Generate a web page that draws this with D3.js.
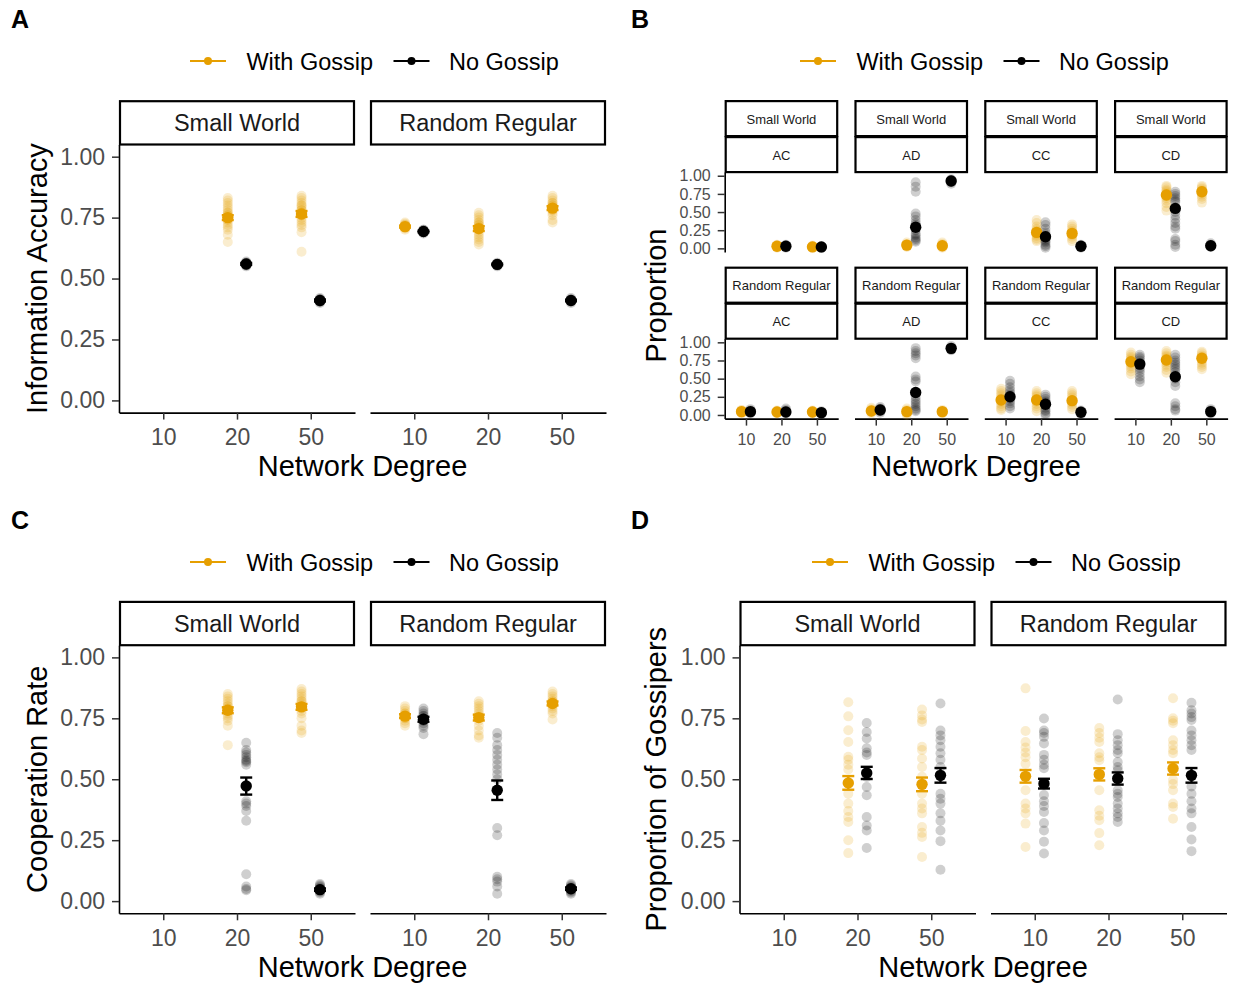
<!DOCTYPE html>
<html>
<head>
<meta charset="utf-8">
<script src="https://cdn.jsdelivr.net/npm/d3@7"></script>
<style>
  body { margin: 0; background: #fff; }
  svg { display: block; }
  text { font-family: "Liberation Sans", Arial, Helvetica, sans-serif; }
</style>
</head>
<body>
<svg id="fig" width="1233" height="989"></svg>
<script>
// ---- categories ----
const degrees = ["10", "20", "50"];
const networks = ["Small World", "Random Regular"];
const conditions = ["With Gossip", "No Gossip"];
const strategies = ["AC", "AD", "CC", "CD"];
const yTicks = [0, 0.25, 0.5, 0.75, 1];
const conditionColors = ["#E69F00", "#000000"];

// ---- A: information accuracy  [network, degree, condition, mean, se, runs] ----
const accuracy = [
  ["Small World", "20", "With Gossip", 0.75, 0.010, [0.65, 0.68, 0.70, 0.71, 0.72, 0.73, 0.74, 0.74, 0.75, 0.75, 0.76, 0.76, 0.77, 0.77, 0.78, 0.79, 0.80, 0.81, 0.82, 0.83]],
  ["Small World", "20", "No Gossip", 0.56, 0.004, [0.55, 0.555, 0.56, 0.56, 0.565, 0.56, 0.57, 0.555, 0.56, 0.565]],
  ["Small World", "50", "With Gossip", 0.765, 0.012, [0.61, 0.69, 0.71, 0.72, 0.73, 0.74, 0.75, 0.76, 0.76, 0.77, 0.77, 0.78, 0.78, 0.79, 0.80, 0.80, 0.81, 0.82, 0.83, 0.84]],
  ["Small World", "50", "No Gossip", 0.41, 0.004, [0.40, 0.405, 0.41, 0.41, 0.415, 0.41, 0.42, 0.405, 0.41, 0.415]],
  ["Random Regular", "10", "With Gossip", 0.713, 0.004, [0.70, 0.705, 0.71, 0.71, 0.715, 0.72, 0.72, 0.725, 0.73]],
  ["Random Regular", "10", "No Gossip", 0.693, 0.003, [0.685, 0.69, 0.69, 0.695, 0.70, 0.69, 0.695, 0.70]],
  ["Random Regular", "20", "With Gossip", 0.705, 0.010, [0.64, 0.65, 0.66, 0.67, 0.68, 0.69, 0.70, 0.70, 0.71, 0.71, 0.72, 0.72, 0.73, 0.73, 0.74, 0.75, 0.76, 0.77]],
  ["Random Regular", "20", "No Gossip", 0.558, 0.003, [0.55, 0.555, 0.56, 0.56, 0.555, 0.56, 0.565, 0.56]],
  ["Random Regular", "50", "With Gossip", 0.789, 0.008, [0.73, 0.74, 0.76, 0.77, 0.78, 0.78, 0.79, 0.79, 0.80, 0.80, 0.81, 0.81, 0.82, 0.83, 0.84]],
  ["Random Regular", "50", "No Gossip", 0.41, 0.003, [0.40, 0.405, 0.41, 0.41, 0.415, 0.41, 0.42, 0.41]]
];

// ---- B: strategy proportions  [network, strategy, degree, condition, mean, runs] ----
const strategyShares = [
  ["Small World", "AC", "20", "With Gossip", 0.03, [0.01, 0.02, 0.03, 0.03, 0.04, 0.05]],
  ["Small World", "AC", "20", "No Gossip", 0.03, [0.01, 0.02, 0.03, 0.04, 0.05]],
  ["Small World", "AC", "50", "With Gossip", 0.02, [0.01, 0.02, 0.02, 0.03, 0.04]],
  ["Small World", "AC", "50", "No Gossip", 0.02, [0.005, 0.01, 0.02, 0.03]],
  ["Small World", "AD", "20", "With Gossip", 0.045, [0.02, 0.03, 0.04, 0.05, 0.06, 0.08]],
  ["Small World", "AD", "20", "No Gossip", 0.29, [0.91, 0.85, 0.78, 0.48, 0.44, 0.39, 0.35, 0.32, 0.25, 0.20, 0.18, 0.15, 0.13, 0.11, 0.09]],
  ["Small World", "AD", "50", "With Gossip", 0.036, [0.01, 0.02, 0.03, 0.04, 0.06, 0.08]],
  ["Small World", "AD", "50", "No Gossip", 0.927, [0.89, 0.91, 0.92, 0.93, 0.94, 0.95]],
  ["Small World", "CC", "20", "With Gossip", 0.22, [0.39, 0.35, 0.30, 0.27, 0.25, 0.23, 0.21, 0.19, 0.17, 0.14, 0.12, 0.10]],
  ["Small World", "CC", "20", "No Gossip", 0.16, [0.36, 0.32, 0.27, 0.22, 0.19, 0.17, 0.15, 0.12, 0.10, 0.08, 0.05, 0.03, 0.01]],
  ["Small World", "CC", "50", "With Gossip", 0.206, [0.33, 0.30, 0.27, 0.24, 0.22, 0.20, 0.18, 0.16, 0.13, 0.10]],
  ["Small World", "CC", "50", "No Gossip", 0.03, [0.01, 0.02, 0.03, 0.04, 0.05]],
  ["Small World", "CD", "20", "With Gossip", 0.734, [0.86, 0.84, 0.81, 0.79, 0.77, 0.75, 0.73, 0.71, 0.69, 0.66, 0.62, 0.57, 0.52]],
  ["Small World", "CD", "20", "No Gossip", 0.55, [0.78, 0.75, 0.72, 0.69, 0.66, 0.64, 0.50, 0.45, 0.40, 0.35, 0.30, 0.27, 0.13, 0.10, 0.05, 0.02]],
  ["Small World", "CD", "50", "With Gossip", 0.78, [0.86, 0.84, 0.82, 0.80, 0.79, 0.78, 0.76, 0.74, 0.71, 0.68, 0.63]],
  ["Small World", "CD", "50", "No Gossip", 0.036, [0.02, 0.03, 0.04, 0.05, 0.07]],
  ["Random Regular", "AC", "10", "With Gossip", 0.046, [0.02, 0.03, 0.04, 0.05, 0.06, 0.07]],
  ["Random Regular", "AC", "10", "No Gossip", 0.046, [0.02, 0.03, 0.05, 0.06, 0.08]],
  ["Random Regular", "AC", "20", "With Gossip", 0.04, [0.02, 0.03, 0.04, 0.05, 0.06]],
  ["Random Regular", "AC", "20", "No Gossip", 0.04, [0.02, 0.03, 0.05, 0.07, 0.09]],
  ["Random Regular", "AC", "50", "With Gossip", 0.04, [0.02, 0.03, 0.04, 0.05, 0.06]],
  ["Random Regular", "AC", "50", "No Gossip", 0.032, [0.01, 0.02, 0.03, 0.04, 0.05]],
  ["Random Regular", "AD", "10", "With Gossip", 0.055, [0.02, 0.04, 0.05, 0.06, 0.08, 0.10]],
  ["Random Regular", "AD", "10", "No Gossip", 0.069, [0.03, 0.05, 0.07, 0.08, 0.09, 0.11]],
  ["Random Regular", "AD", "20", "With Gossip", 0.046, [0.0, 0.02, 0.04, 0.05, 0.07, 0.09]],
  ["Random Regular", "AD", "20", "No Gossip", 0.31, [0.92, 0.88, 0.85, 0.82, 0.78, 0.53, 0.49, 0.46, 0.25, 0.21, 0.18, 0.15, 0.12, 0.09, 0.07, 0.05]],
  ["Random Regular", "AD", "50", "With Gossip", 0.046, [0.02, 0.03, 0.04, 0.05, 0.07]],
  ["Random Regular", "AD", "50", "No Gossip", 0.917, [0.89, 0.90, 0.91, 0.92, 0.93, 0.95]],
  ["Random Regular", "CC", "10", "With Gossip", 0.206, [0.36, 0.33, 0.30, 0.27, 0.24, 0.22, 0.20, 0.18, 0.15, 0.12, 0.09, 0.07]],
  ["Random Regular", "CC", "10", "No Gossip", 0.25, [0.47, 0.43, 0.38, 0.34, 0.31, 0.28, 0.26, 0.24, 0.22, 0.19, 0.16, 0.12, 0.09]],
  ["Random Regular", "CC", "20", "With Gossip", 0.206, [0.33, 0.30, 0.27, 0.25, 0.22, 0.20, 0.18, 0.15, 0.12, 0.09, 0.05]],
  ["Random Regular", "CC", "20", "No Gossip", 0.147, [0.28, 0.25, 0.22, 0.19, 0.17, 0.15, 0.13, 0.10, 0.07, 0.05, 0.02, 0.0]],
  ["Random Regular", "CC", "50", "With Gossip", 0.197, [0.33, 0.30, 0.27, 0.24, 0.21, 0.19, 0.17, 0.14, 0.11, 0.08]],
  ["Random Regular", "CC", "50", "No Gossip", 0.037, [0.01, 0.02, 0.03, 0.05, 0.06]],
  ["Random Regular", "CD", "10", "With Gossip", 0.733, [0.86, 0.83, 0.80, 0.78, 0.76, 0.74, 0.72, 0.70, 0.67, 0.64, 0.60, 0.56]],
  ["Random Regular", "CD", "10", "No Gossip", 0.70, [0.83, 0.80, 0.78, 0.75, 0.72, 0.70, 0.68, 0.65, 0.62, 0.58, 0.53, 0.49, 0.45]],
  ["Random Regular", "CD", "20", "With Gossip", 0.757, [0.88, 0.85, 0.82, 0.80, 0.78, 0.76, 0.74, 0.72, 0.69, 0.66, 0.62, 0.58]],
  ["Random Regular", "CD", "20", "No Gossip", 0.527, [0.83, 0.79, 0.75, 0.72, 0.69, 0.66, 0.63, 0.59, 0.55, 0.50, 0.45, 0.40, 0.16, 0.12, 0.08, 0.06]],
  ["Random Regular", "CD", "50", "With Gossip", 0.78, [0.87, 0.85, 0.82, 0.80, 0.78, 0.77, 0.75, 0.72, 0.69, 0.66, 0.63]],
  ["Random Regular", "CD", "50", "No Gossip", 0.046, [0.02, 0.03, 0.04, 0.05, 0.06, 0.08]]
];

// ---- C: cooperation rate  [network, degree, condition, mean, se, runs] ----
const cooperation = [
  ["Small World", "20", "With Gossip", 0.783, 0.012, [0.64, 0.72, 0.74, 0.75, 0.76, 0.77, 0.78, 0.78, 0.79, 0.79, 0.80, 0.80, 0.81, 0.82, 0.83, 0.84, 0.85]],
  ["Small World", "20", "No Gossip", 0.472, 0.035, [0.65, 0.62, 0.61, 0.60, 0.59, 0.58, 0.575, 0.57, 0.56, 0.41, 0.40, 0.39, 0.37, 0.33, 0.11, 0.06, 0.05, 0.045]],
  ["Small World", "50", "With Gossip", 0.797, 0.012, [0.69, 0.70, 0.72, 0.75, 0.77, 0.78, 0.79, 0.80, 0.80, 0.81, 0.82, 0.82, 0.83, 0.84, 0.85, 0.86, 0.87]],
  ["Small World", "50", "No Gossip", 0.047, 0.005, [0.03, 0.035, 0.04, 0.045, 0.05, 0.05, 0.055, 0.06, 0.065, 0.07]],
  ["Random Regular", "10", "With Gossip", 0.759, 0.008, [0.72, 0.73, 0.74, 0.75, 0.75, 0.76, 0.76, 0.77, 0.77, 0.78, 0.79, 0.80]],
  ["Random Regular", "10", "No Gossip", 0.746, 0.010, [0.685, 0.71, 0.72, 0.73, 0.74, 0.74, 0.75, 0.75, 0.76, 0.76, 0.77, 0.78, 0.79]],
  ["Random Regular", "20", "With Gossip", 0.753, 0.012, [0.67, 0.68, 0.70, 0.72, 0.74, 0.75, 0.76, 0.77, 0.78, 0.79, 0.80, 0.81, 0.82]],
  ["Random Regular", "20", "No Gossip", 0.455, 0.040, [0.69, 0.67, 0.64, 0.62, 0.60, 0.58, 0.56, 0.54, 0.52, 0.50, 0.30, 0.27, 0.10, 0.09, 0.08, 0.06, 0.03]],
  ["Random Regular", "50", "With Gossip", 0.811, 0.008, [0.745, 0.77, 0.78, 0.79, 0.80, 0.81, 0.82, 0.82, 0.83, 0.84, 0.85, 0.86]],
  ["Random Regular", "50", "No Gossip", 0.051, 0.005, [0.03, 0.035, 0.04, 0.045, 0.05, 0.055, 0.06, 0.065, 0.07]]
];

// ---- D: proportion of gossipers  [network, degree, condition, mean, se, runs] ----
const gossipers = [
  ["Small World", "20", "With Gossip", 0.485, 0.028, [0.816, 0.758, 0.701, 0.653, 0.592, 0.58, 0.56, 0.54, 0.441, 0.40, 0.37, 0.345, 0.325, 0.25, 0.197]],
  ["Small World", "20", "No Gossip", 0.526, 0.025, [0.731, 0.694, 0.667, 0.627, 0.61, 0.60, 0.509, 0.468, 0.434, 0.345, 0.31, 0.29, 0.218]],
  ["Small World", "50", "With Gossip", 0.479, 0.028, [0.786, 0.762, 0.745, 0.735, 0.633, 0.62, 0.585, 0.55, 0.51, 0.441, 0.40, 0.38, 0.36, 0.304, 0.28, 0.263, 0.181]],
  ["Small World", "50", "No Gossip", 0.516, 0.030, [0.811, 0.70, 0.68, 0.66, 0.633, 0.607, 0.58, 0.55, 0.44, 0.42, 0.40, 0.36, 0.33, 0.29, 0.246, 0.129]],
  ["Random Regular", "10", "With Gossip", 0.512, 0.026, [0.873, 0.698, 0.653, 0.63, 0.61, 0.59, 0.564, 0.455, 0.40, 0.38, 0.36, 0.318, 0.222]],
  ["Random Regular", "10", "No Gossip", 0.482, 0.020, [0.749, 0.70, 0.69, 0.674, 0.647, 0.60, 0.58, 0.56, 0.545, 0.435, 0.41, 0.39, 0.366, 0.32, 0.29, 0.244, 0.195]],
  ["Random Regular", "20", "With Gossip", 0.52, 0.025, [0.71, 0.69, 0.67, 0.653, 0.607, 0.59, 0.578, 0.455, 0.373, 0.35, 0.332, 0.279, 0.229]],
  ["Random Regular", "20", "No Gossip", 0.503, 0.025, [0.827, 0.685, 0.66, 0.64, 0.62, 0.607, 0.571, 0.55, 0.537, 0.455, 0.44, 0.427, 0.40, 0.38, 0.36, 0.345, 0.325]],
  ["Random Regular", "50", "With Gossip", 0.544, 0.025, [0.832, 0.75, 0.74, 0.73, 0.66, 0.64, 0.62, 0.607, 0.497, 0.48, 0.455, 0.40, 0.386, 0.338]],
  ["Random Regular", "50", "No Gossip", 0.516, 0.030, [0.814, 0.783, 0.77, 0.755, 0.743, 0.70, 0.68, 0.66, 0.64, 0.62, 0.47, 0.44, 0.41, 0.38, 0.36, 0.304, 0.253, 0.205]]
];

// ---- drawing ----
const svg = d3.select("#fig");
const color = d3.scaleOrdinal().domain(conditions).range(conditionColors);

// One facet: strips on top, axes, raw runs (faint), error bars and means.
function drawFacet(cfg, groups) {
  const g = svg.append("g");
  const x = d3.scalePoint().domain(degrees).range([cfg.left, cfg.left + cfg.width]).padding(0.6);
  const y = d3.scaleLinear().domain([-0.05, 1.05]).range([cfg.top + cfg.height, cfg.top]);
  const dodge = x.step() * 0.125;
  const cx = d => x(d.degree) + (d.condition === conditions[0] ? -dodge : dodge);

  // strips
  cfg.strips.forEach((label, i) => {
    const sy = cfg.top - (cfg.strips.length - i) * cfg.stripH;
    g.append("rect")
      .attr("x", cfg.left + 1).attr("y", sy + 1)
      .attr("width", cfg.width - 2).attr("height", cfg.stripH - 1)
      .attr("fill", "#fff").attr("stroke", "#000").attr("stroke-width", 2.2);
    g.append("text")
      .attr("x", cfg.left + cfg.width / 2).attr("y", sy + cfg.stripH / 2 + 1)
      .attr("text-anchor", "middle").attr("dominant-baseline", "central")
      .attr("font-size", cfg.stripFont).attr("fill", "#1A1A1A")
      .text(label);
  });

  const styleAxis = sel => {
    sel.select(".domain").attr("stroke", "#000").attr("stroke-width", 1.6);
    sel.selectAll(".tick line").attr("stroke", "#333").attr("stroke-width", 1.5);
    sel.selectAll(".tick text").attr("fill", "#4D4D4D").attr("font-size", cfg.tickFont)
      .attr("font-family", '"Liberation Sans", Arial, sans-serif');
  };
  if (cfg.showY) {
    g.append("g").attr("transform", `translate(${cfg.left},0)`)
      .call(d3.axisLeft(y).tickValues(yTicks).tickFormat(d3.format(".2f"))
        .tickSize(7).tickSizeOuter(0).tickPadding(7))
      .call(styleAxis);
  }
  if (cfg.showX) {
    g.append("g").attr("transform", `translate(0,${cfg.top + cfg.height})`)
      .call(d3.axisBottom(x).tickSize(7).tickSizeOuter(0).tickPadding(cfg.xPad))
      .call(styleAxis);
  }

  const runs = groups.flatMap(d => d.runs.map(v => ({ ...d, v })));
  g.append("g").selectAll("circle").data(runs).join("circle")
    .attr("cx", cx).attr("cy", d => y(d.v)).attr("r", 5)
    .attr("fill", d => color(d.condition)).attr("fill-opacity", 0.19);

  const withSe = groups.filter(d => d.se > 0);
  const eb = g.append("g").selectAll("g").data(withSe).join("g")
    .attr("stroke", d => color(d.condition)).attr("stroke-width", 2.4);
  eb.append("line").attr("x1", cx).attr("x2", cx)
    .attr("y1", d => y(d.mean - d.se)).attr("y2", d => y(d.mean + d.se));
  eb.append("line").attr("x1", d => cx(d) - 6).attr("x2", d => cx(d) + 6)
    .attr("y1", d => y(d.mean - d.se)).attr("y2", d => y(d.mean - d.se));
  eb.append("line").attr("x1", d => cx(d) - 6).attr("x2", d => cx(d) + 6)
    .attr("y1", d => y(d.mean + d.se)).attr("y2", d => y(d.mean + d.se));

  g.append("g").selectAll("circle").data(groups).join("circle")
    .attr("cx", cx).attr("cy", d => y(d.mean)).attr("r", 5.7)
    .attr("fill", d => color(d.condition));
}

function legend(x0, y0) {
  const g = svg.append("g");
  const items = [[0, 56.4], [203.5, 259]];
  conditions.forEach((c, i) => {
    const [lx, tx] = items[i];
    g.append("line").attr("x1", x0 + lx).attr("x2", x0 + lx + 36)
      .attr("y1", y0).attr("y2", y0).attr("stroke", color(c)).attr("stroke-width", 2);
    g.append("circle").attr("cx", x0 + lx + 18).attr("cy", y0).attr("r", 4).attr("fill", color(c));
    g.append("text").attr("x", x0 + tx).attr("y", y0 + 8.6)
      .attr("font-size", 23.5).attr("fill", "#000").text(c);
  });
}

function label(text, x, y) {
  svg.append("text").attr("x", x).attr("y", y).attr("font-size", 25)
    .attr("font-weight", "bold").attr("fill", "#000").text(text);
}

function xTitle(text, cx, y) {
  svg.append("text").attr("x", cx).attr("y", y).attr("text-anchor", "middle")
    .attr("font-size", 29).attr("fill", "#000").text(text);
}
function yTitle(text, x, cy) {
  svg.append("text").attr("transform", `translate(${x},${cy}) rotate(-90)`)
    .attr("text-anchor", "middle").attr("font-size", 29).attr("fill", "#000").text(text);
}

const asGroups = rows => rows.map(([network, degree, condition, mean, se, runs]) =>
  ({ network, degree, condition, mean, se, runs }));

// two-facet panels (A, C, D)
function twoFacetPanel(rows, left, top, yTitleText, yTitleX, letter, letterX, letterY) {
  const groups = asGroups(rows);
  const height = 268.1, width = 236, step = 251;
  networks.forEach((net, i) => {
    drawFacet({
      left: left + i * step, top, width, height,
      strips: [net], stripH: 44.3, stripFont: 23.5, tickFont: 23,
      showY: i === 0, showX: true, xPad: 9
    }, groups.filter(d => d.network === net));
  });
  yTitle(yTitleText, yTitleX, top + height / 2);
  xTitle("Network Degree", left + (step + width) / 2, top + height + 63.5);
  label(letter, letterX, letterY);
}

twoFacetPanel(accuracy, 119, 144.5, "Information Accuracy", 47, "A", 11, 28);
twoFacetPanel(cooperation, 119, 645.2, "Cooperation Rate", 47, "C", 11, 529);
twoFacetPanel(gossipers, 739.5, 645.2, "Proportion of Gossipers", 666, "D", 631, 529);

// B: strategy x network grid
const shareGroups = strategyShares.map(([network, strategy, degree, condition, mean, runs]) =>
  ({ network, strategy, degree, condition, mean, se: 0, runs }));
const bRowTops = [172.1, 338.7];
networks.forEach((net, r) => {
  strategies.forEach((s, c) => {
    drawFacet({
      left: 724.7 + c * 129.8, top: bRowTops[r], width: 113.5, height: 79.9,
      strips: [net, s], stripH: 36, stripFont: 13, tickFont: 16,
      showY: c === 0, showX: r === 1, xPad: 8
    }, shareGroups.filter(d => d.network === net && d.strategy === s));
  });
});
yTitle("Proportion", 666, 295.5);
xTitle("Network Degree", 976, 476);
label("B", 631, 28);

legend(190, 61);
legend(800, 61);
legend(190, 562);
legend(812, 562);
</script>
</body>
</html>
